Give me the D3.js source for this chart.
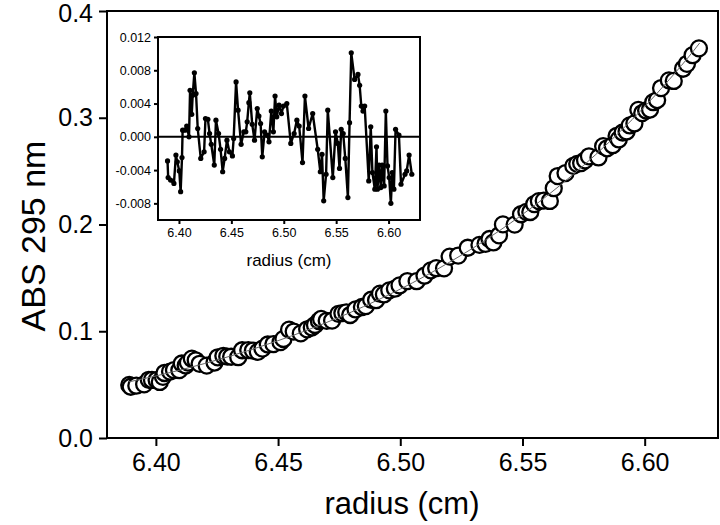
<!DOCTYPE html>
<html>
<head>
<meta charset="utf-8">
<title>ABS 295 nm vs radius</title>
<script src="https://cdnjs.cloudflare.com/ajax/libs/d3/7.8.5/d3.min.js"></script>
<style>
  body { margin: 0; background: #fff; }
  svg { font-family: "Liberation Sans", Arial, sans-serif; }
  .axis .domain { display: none; }
  .axis line { stroke: #000; stroke-width: 2; }
  .axis text { fill: #000; }
</style>
</head>
<body>
<script>
// radius (cm) of each scan point
var radius = [6.3891, 6.3897, 6.3920, 6.3952, 6.3971, 6.3984, 6.4003, 6.4016, 6.4029, 6.4035,
  6.4058, 6.4074, 6.4096, 6.4106, 6.4122, 6.4131, 6.4147, 6.4163, 6.4179, 6.4208,
  6.4240, 6.4253, 6.4276, 6.4292, 6.4308, 6.4337, 6.4353, 6.4378, 6.4397, 6.4417,
  6.4436, 6.4458, 6.4481, 6.4510, 6.4522, 6.4545, 6.4564, 6.4593, 6.4619, 6.4638,
  6.4651, 6.4667, 6.4676, 6.4699, 6.4721, 6.4747, 6.4763, 6.4779, 6.4795, 6.4817,
  6.4843, 6.4859, 6.4881, 6.4901, 6.4917, 6.4933, 6.4955, 6.4978, 6.4997, 6.5029,
  6.5067, 6.5099, 6.5125, 6.5147, 6.5179, 6.5202, 6.5237, 6.5276, 6.5324, 6.5349,
  6.5365, 6.5381, 6.5404, 6.5420, 6.5468, 6.5494, 6.5516, 6.5532, 6.5548, 6.5567,
  6.5587, 6.5612, 6.5628, 6.5644, 6.5676, 6.5708, 6.5724, 6.5740, 6.5756, 6.5772,
  6.5811, 6.5830, 6.5846, 6.5869, 6.5885, 6.5894, 6.5910, 6.5926, 6.5939, 6.5958,
  6.5974, 6.5990, 6.6006, 6.6022, 6.6035, 6.6051, 6.6067, 6.6099, 6.6119, 6.6157,
  6.6173, 6.6196, 6.6222];

// measured absorbance at 295 nm
var absorbance = [0.0497, 0.0480, 0.0490, 0.0503, 0.0545, 0.0544, 0.0543, 0.0525, 0.0573, 0.0609,
  0.0622, 0.0636, 0.0636, 0.0698, 0.0679, 0.0706, 0.0743, 0.0728, 0.0695, 0.0678,
  0.0707, 0.0756, 0.0770, 0.0763, 0.0761, 0.0757, 0.0822, 0.0824, 0.0819, 0.0807,
  0.0837, 0.0876, 0.0880, 0.0898, 0.0928, 0.1015, 0.0997, 0.0980, 0.1018, 0.1035,
  0.1059, 0.1096, 0.1115, 0.1098, 0.1100, 0.1163, 0.1170, 0.1177, 0.1152, 0.1204,
  0.1227, 0.1236, 0.1295, 0.1291, 0.1352, 0.1345, 0.1383, 0.1399, 0.1429, 0.1470,
  0.1469, 0.1520, 0.1570, 0.1591, 0.1589, 0.1699, 0.1709, 0.1782, 0.1809, 0.1819,
  0.1864, 0.1832, 0.1899, 0.2001, 0.1999, 0.2096, 0.2119, 0.2117, 0.2191, 0.2219,
  0.2223, 0.2221, 0.2340, 0.2454, 0.2482, 0.2549, 0.2568, 0.2575, 0.2601, 0.2639,
  0.2628, 0.2734, 0.2714, 0.2743, 0.2829, 0.2797, 0.2862, 0.2871, 0.2928, 0.2947,
  0.3074, 0.3044, 0.3068, 0.3077, 0.3146, 0.3166, 0.3278, 0.3350, 0.3345, 0.3459,
  0.3505, 0.3586, 0.3650];

// residuals of the fit
var residual = [-0.0029, -0.0049, -0.0052, -0.0056, -0.0022, -0.0030, -0.0041, -0.0066, -0.0025, 0.0008,
  0.0008, 0.0013, 0.0000, 0.0056, 0.0027, 0.0050, 0.0077, 0.0052, 0.0010, -0.0026,
  -0.0018, 0.0022, 0.0021, 0.0004, -0.0009, -0.0034, 0.0020, 0.0004, -0.0015, -0.0042,
  -0.0026, -0.0004, -0.0018, -0.0023, -0.0002, 0.0066, 0.0032, -0.0009, 0.0006, 0.0006,
  0.0018, 0.0041, 0.0053, 0.0015, -0.0004, 0.0034, 0.0025, 0.0016, -0.0024, 0.0006,
  0.0002, -0.0006, 0.0031, 0.0006, 0.0049, 0.0024, 0.0038, 0.0028, 0.0037, 0.0040,
  -0.0008, 0.0004, 0.0020, 0.0013, -0.0031, 0.0049, 0.0010, 0.0028, -0.0015, -0.0042,
  -0.0021, -0.0077, -0.0045, 0.0032, -0.0049, 0.0006, -0.0008, -0.0038, 0.0009, 0.0004,
  -0.0026, -0.0073, 0.0017, 0.0101, 0.0069, 0.0075, 0.0062, 0.0037, 0.0031, 0.0037,
  -0.0053, 0.0012, -0.0043, -0.0063, -0.0012, -0.0063, -0.0034, -0.0061, -0.0034, -0.0059,
  0.0031, -0.0035, -0.0049, -0.0080, -0.0043, -0.0063, 0.0009, 0.0002, -0.0057, -0.0045,
  -0.0041, -0.0022, -0.0045];

// fitted curve
var fitRadius = [6.389, 6.40, 6.41, 6.42, 6.43, 6.44, 6.45, 6.46, 6.47, 6.48, 6.49, 6.50,
  6.51, 6.52, 6.53, 6.54, 6.55, 6.56, 6.57, 6.58, 6.59, 6.60, 6.61, 6.62, 6.6225];
var fitAbs = [0.0526, 0.0581, 0.0637, 0.0698, 0.0764, 0.0835, 0.0912, 0.0994, 0.1084, 0.1180, 0.1284, 0.1395,
  0.1515, 0.1645, 0.1783, 0.1933, 0.2094, 0.2268, 0.2455, 0.2656, 0.2872, 0.3104, 0.3356, 0.3627, 0.3700];

var xTicks = [6.40, 6.45, 6.50, 6.55, 6.60];
var yTicks = [0.0, 0.1, 0.2, 0.3, 0.4];
var insetYTicks = [-0.008, -0.004, 0.000, 0.004, 0.008, 0.012];

var width = 720, height = 525;

var svg = d3.select("body").append("svg")
    .attr("width", width)
    .attr("height", height);

// main plot
var x = d3.scaleLinear().domain([6.38, 6.63]).range([107, 718]);
var y = d3.scaleLinear().domain([0, 0.4]).range([438, 11]);

var yAxisG = svg.append("g")
    .attr("class", "axis")
    .attr("transform", "translate(107,0)")
    .style("font-size", "25px")
    .call(d3.axisLeft(y).tickValues(yTicks).tickSize(8).tickPadding(6)
        .tickFormat(d3.format(".1f")));

// nudge the top label so it stays inside the page
yAxisG.selectAll(".tick text")
    .filter(function (d) { return d === 0.4; })
    .attr("dy", "0.4em");

svg.append("g")
    .attr("class", "axis")
    .attr("transform", "translate(0,438)")
    .style("font-size", "25px")
    .call(d3.axisBottom(x).tickValues(xTicks).tickSize(8).tickPadding(7)
        .tickFormat(d3.format(".2f")));

svg.append("rect")
    .attr("x", 107).attr("y", 11)
    .attr("width", 718 - 107).attr("height", 438 - 11)
    .attr("fill", "none")
    .attr("stroke", "#000")
    .attr("stroke-width", 2);

var pts = radius.map(function (r, i) { return { r: r, a: absorbance[i], e: residual[i] }; });

svg.append("g").selectAll("circle")
    .data(pts)
    .enter().append("circle")
    .attr("cx", function (d) { return x(d.r); })
    .attr("cy", function (d) { return y(d.a); })
    .attr("r", 8)
    .attr("fill", "#fff")
    .attr("stroke", "#000")
    .attr("stroke-width", 2.3);

var fitLine = d3.line()
    .x(function (d, i) { return x(fitRadius[i]); })
    .y(function (d) { return y(d); })
    .curve(d3.curveMonotoneX);

svg.append("path")
    .attr("d", fitLine(fitAbs))
    .attr("fill", "none")
    .attr("stroke", "#666")
    .attr("stroke-width", 1);

svg.append("text")
    .attr("x", 402).attr("y", 514)
    .attr("text-anchor", "middle")
    .style("font-size", "31px")
    .text("radius (cm)");

svg.append("text")
    .attr("transform", "translate(45,236) rotate(-90)")
    .attr("text-anchor", "middle")
    .style("font-size", "34px")
    .text("ABS 295 nm");

// inset: residuals
var ix = d3.scaleLinear().domain([6.38, 6.63]).range([158, 420]);
var iy = d3.scaleLinear().domain([-0.010, 0.012]).range([220, 37]);

svg.append("rect")
    .attr("x", 158).attr("y", 37)
    .attr("width", 420 - 158).attr("height", 220 - 37)
    .attr("fill", "#fff");

svg.append("g")
    .attr("class", "axis")
    .attr("transform", "translate(158,0)")
    .style("font-size", "12.5px")
    .call(d3.axisLeft(iy).tickValues(insetYTicks).tickSize(4).tickPadding(3)
        .tickFormat(function (d) { return d3.format(".3f")(d).replace("\u2212", "-"); }));

svg.append("g")
    .attr("class", "axis")
    .attr("transform", "translate(0,220)")
    .style("font-size", "12.5px")
    .call(d3.axisBottom(ix).tickValues(xTicks).tickSize(4).tickPadding(4)
        .tickFormat(d3.format(".2f")));

svg.append("line")
    .attr("x1", 158).attr("x2", 420)
    .attr("y1", iy(0)).attr("y2", iy(0))
    .attr("stroke", "#000")
    .attr("stroke-width", 2);

var resLine = d3.line()
    .x(function (d) { return ix(d.r); })
    .y(function (d) { return iy(d.e); });

svg.append("path")
    .attr("d", resLine(pts))
    .attr("fill", "none")
    .attr("stroke", "#000")
    .attr("stroke-width", 2.4)
    .attr("stroke-linejoin", "round");

svg.append("g").selectAll("circle")
    .data(pts)
    .enter().append("circle")
    .attr("cx", function (d) { return ix(d.r); })
    .attr("cy", function (d) { return iy(d.e); })
    .attr("r", 2.6)
    .attr("fill", "#000");

svg.append("rect")
    .attr("x", 158).attr("y", 37)
    .attr("width", 420 - 158).attr("height", 220 - 37)
    .attr("fill", "none")
    .attr("stroke", "#000")
    .attr("stroke-width", 2);

svg.append("text")
    .attr("x", 289).attr("y", 266)
    .attr("text-anchor", "middle")
    .style("font-size", "17px")
    .text("radius (cm)");
</script>
</body>
</html>
